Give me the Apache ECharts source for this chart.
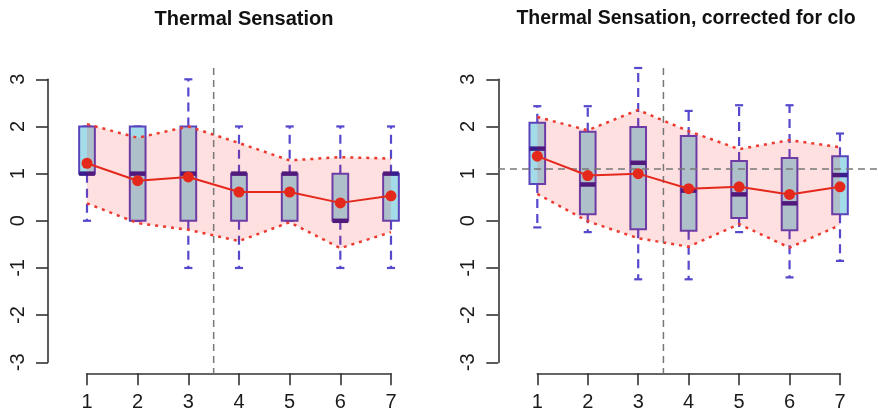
<!DOCTYPE html>
<html>
<head>
<meta charset="utf-8">
<script src="https://cdn.jsdelivr.net/npm/echarts@6/dist/echarts.min.js"></script>
<style>
html,body{margin:0;padding:0;background:#fff;}
#chart{width:878px;height:419px;}
</style>
</head>
<body>
<div id="chart"></div>
<script>
// ---- data ----
const categories = [1, 2, 3, 4, 5, 6, 7];
const yTicks = [-3, -2, -1, 0, 1, 2, 3];

// Panel 1: Thermal Sensation
const tsWhiskerLow  = [0, 0, -1, -1, 0, -1, -1];
const tsQ1          = [1, 0, 0, 0, 0, 0, 0];
const tsMedian      = [1, 1, 1, 1, 1, 0, 1];
const tsQ3          = [2, 2, 2, 1, 1, 1, 1];
const tsWhiskerHigh = [2, 2, 3, 2, 2, 2, 2];
const tsMean        = [1.22, 0.85, 0.93, 0.61, 0.61, 0.38, 0.53];
const tsSdUpper     = [2.05, 1.76, 2.0, 1.65, 1.28, 1.35, 1.32];
const tsSdLower     = [0.37, -0.05, -0.19, -0.43, -0.03, -0.58, -0.24];

// Panel 2: Thermal Sensation, corrected for clo
const tcWhiskerLow  = [-0.14, -0.24, -1.24, -1.24, -0.24, -1.2, -0.85];
const tcQ1          = [0.78, 0.14, -0.18, -0.21, 0.06, -0.2, 0.14];
const tcMedian      = [1.53, 0.77, 1.23, 0.64, 0.56, 0.37, 0.97];
const tcQ3          = [2.08, 1.89, 1.99, 1.8, 1.27, 1.33, 1.37];
const tcWhiskerHigh = [2.43, 2.43, 3.24, 2.33, 2.45, 2.45, 1.85];
const tcMean        = [1.37, 0.96, 1.0, 0.68, 0.72, 0.56, 0.72];
const tcSdUpper     = [2.2, 1.92, 2.35, 1.9, 1.52, 1.71, 1.56];
const tcSdLower     = [0.57, -0.01, -0.37, -0.55, -0.07, -0.57, -0.09];

// reference lines
const splitX = 3.5;
const cloRefY = 1.1;
const plotYRange = [-3.24, 3.24];
const plotXRange = [0.22, 7.78];

const titles = ['Thermal Sensation', 'Thermal Sensation, corrected for clo'];

// ---- styles ----
const FONT = 'Liberation Sans, Arial, Helvetica, sans-serif';
const BOX_FILL = '#A3DCE8';
const BOX_BORDER = '#5A44BC';
const MEDIAN_COLOR = '#3A1D8C';
const WHISKER_COLOR = '#5548CC';
const RED = '#E5281C';
const REF_COLOR = '#777777';

const chart = echarts.init(document.getElementById('chart'), null, {renderer: 'canvas'});

function boxSeries(gi, wl, q1, med, q3, wh) {
  return {
    type: 'custom', xAxisIndex: gi, yAxisIndex: gi, z: 2, clip: false,
    data: categories.map((c, i) => [c, wl[i], q1[i], med[i], q3[i], wh[i]]),
    renderItem: function (params, api) {
      const x = api.value(0);
      const unit = api.size([1, 0])[0];
      const hw = unit * 0.155;
      const cw = unit * 0.16;
      const pWl = api.coord([x, api.value(1)]);
      const pQ1 = api.coord([x, api.value(2)]);
      const pMed = api.coord([x, api.value(3)]);
      const pQ3 = api.coord([x, api.value(4)]);
      const pWh = api.coord([x, api.value(5)]);
      const dashed = {stroke: WHISKER_COLOR, lineWidth: 2.2, lineDash: [9, 6]};
      const solid = {stroke: WHISKER_COLOR, lineWidth: 2.2};
      return {
        type: 'group',
        children: [
          {type: 'line', shape: {x1: pQ3[0], y1: pQ3[1], x2: pWh[0], y2: pWh[1]}, style: dashed},
          {type: 'line', shape: {x1: pQ1[0], y1: pQ1[1], x2: pWl[0], y2: pWl[1]}, style: dashed},
          {type: 'line', shape: {x1: pWh[0] - cw / 2, y1: pWh[1], x2: pWh[0] + cw / 2, y2: pWh[1]}, style: solid},
          {type: 'line', shape: {x1: pWl[0] - cw / 2, y1: pWl[1], x2: pWl[0] + cw / 2, y2: pWl[1]}, style: solid},
          {type: 'rect', shape: {x: pQ3[0] - hw, y: pQ3[1], width: hw * 2, height: pQ1[1] - pQ3[1]},
            style: {fill: BOX_FILL, stroke: BOX_BORDER, lineWidth: 2}},
          {type: 'line', shape: {x1: pMed[0] - hw, y1: pMed[1], x2: pMed[0] + hw, y2: pMed[1]},
            style: {stroke: MEDIAN_COLOR, lineWidth: 4.5}}
        ]
      };
    }
  };
}

function bandSeries(gi, up, lo) {
  return {
    type: 'custom', xAxisIndex: gi, yAxisIndex: gi, z: 3, clip: false, silent: true,
    data: categories.map((c, i) => [c, up[i], lo[i]]),
    renderItem: function (params, api) {
      if (params.dataIndex !== 0) return null;
      const pts = [];
      for (let i = 0; i < categories.length; i++) pts.push(api.coord([categories[i], up[i]]));
      for (let i = categories.length - 1; i >= 0; i--) pts.push(api.coord([categories[i], lo[i]]));
      return {type: 'polygon', shape: {points: pts}, style: {fill: 'rgba(255,0,0,0.12)', stroke: null}};
    }
  };
}

function dottedLine(gi, vals) {
  return {
    type: 'line', xAxisIndex: gi, yAxisIndex: gi, z: 4, clip: false, silent: true,
    symbol: 'none',
    data: categories.map((c, i) => [c, vals[i]]),
    lineStyle: {color: '#EC3A30', width: 2.5, type: [3, 5]}
  };
}

// reference line through the library's coordinate system (points may lie outside axis min/max)
function refLine(gi, pts) {
  return {
    type: 'custom', xAxisIndex: gi, yAxisIndex: gi, z: 5, clip: false, silent: true,
    data: [[pts[0][0], pts[0][1], pts[1][0], pts[1][1]]],
    renderItem: function (params, api) {
      const a = api.coord([api.value(0), api.value(1)]);
      const b = api.coord([api.value(2), api.value(3)]);
      return {type: 'line', shape: {x1: a[0], y1: a[1], x2: b[0], y2: b[1]},
        style: {stroke: REF_COLOR, lineWidth: 1.5, lineDash: [7, 5]}};
    }
  };
}

function meanSeries(gi, vals) {
  return {
    type: 'line', xAxisIndex: gi, yAxisIndex: gi, z: 6, clip: false,
    symbol: 'circle', symbolSize: 11,
    data: categories.map((c, i) => [c, vals[i]]),
    itemStyle: {color: RED, borderWidth: 0},
    lineStyle: {color: RED, width: 2}
  };
}

function xAxis(gi) {
  return {
    type: 'value', gridIndex: gi, min: categories[0], max: categories[categories.length - 1], interval: 1,
    offset: 11,
    axisLine: {show: true, onZero: false, lineStyle: {color: '#333', width: 1.6}},
    axisTick: {show: true, length: 12, lineStyle: {color: '#333', width: 1.6}},
    axisLabel: {fontSize: 20, color: '#1a1a1a', fontFamily: FONT, margin: 19},
    splitLine: {show: false}
  };
}
function yAxis(gi) {
  return {
    type: 'value', gridIndex: gi, min: yTicks[0], max: yTicks[yTicks.length - 1], interval: 1,
    offset: 39,
    axisLine: {show: true, onZero: false, lineStyle: {color: '#333', width: 1.6}},
    axisTick: {show: true, length: 12, lineStyle: {color: '#333', width: 1.6}},
    axisLabel: {fontSize: 20, color: '#1a1a1a', fontFamily: FONT, rotate: 90, margin: 20},
    splitLine: {show: false}
  };
}

const option = {
  animation: false,
  backgroundColor: '#ffffff',
  title: [
    {text: titles[0], left: 239, top: 4, textAlign: 'center',
      textStyle: {fontSize: 20, fontWeight: 'bold', color: '#111', fontFamily: FONT}},
    {text: titles[1], left: 681, top: 4, textAlign: 'center',
      textStyle: {fontSize: 19.5, fontWeight: 'bold', color: '#111', fontFamily: FONT}}
  ],
  grid: [
    {left: 87, top: 79.3, width: 304, height: 283, outerBoundsMode: 'none', containLabel: false},
    {left: 537.3, top: 79.3, width: 302.7, height: 283, outerBoundsMode: 'none', containLabel: false}
  ],
  xAxis: [xAxis(0), xAxis(1)],
  yAxis: [yAxis(0), yAxis(1)],
  series: [
    boxSeries(0, tsWhiskerLow, tsQ1, tsMedian, tsQ3, tsWhiskerHigh),
    bandSeries(0, tsSdUpper, tsSdLower),
    dottedLine(0, tsSdUpper),
    dottedLine(0, tsSdLower),
    refLine(0, [[splitX, plotYRange[1]], [splitX, plotYRange[0]]]),
    meanSeries(0, tsMean),

    boxSeries(1, tcWhiskerLow, tcQ1, tcMedian, tcQ3, tcWhiskerHigh),
    bandSeries(1, tcSdUpper, tcSdLower),
    dottedLine(1, tcSdUpper),
    dottedLine(1, tcSdLower),
    refLine(1, [[splitX, plotYRange[1]], [splitX, plotYRange[0]]]),
    refLine(1, [[plotXRange[0], cloRefY], [plotXRange[1], cloRefY]]),
    meanSeries(1, tcMean)
  ]
};
chart.setOption(option);
</script>
</body>
</html>
